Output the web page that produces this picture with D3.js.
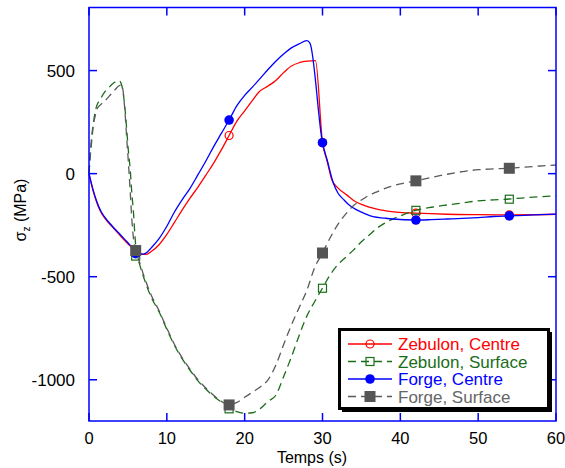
<!DOCTYPE html>
<html><head><meta charset="utf-8">
<script src="https://cdn.jsdelivr.net/npm/d3@7"></script>
<style>body{margin:0;background:#fff}svg{display:block}text{font-family:"Liberation Sans",Arial,sans-serif}</style>
</head><body>
<svg id="c" width="565" height="468"></svg>
<script>
// ---- data ----
const xTicks = [0, 10, 20, 30, 40, 50, 60];
const yTicks = [-1000, -500, 0, 500];
const seriesNames = ["Zebulon, Centre", "Zebulon, Surface", "Forge, Centre", "Forge, Surface"];
const markerT = [6, 18, 30, 42, 54];

const zebCentreT = [0,0.5,1,1.5,2,3,4,5,6,7,7.5,8,9,10,11,12,13,14,15,16,17,18,19,20,21,21.8,23,24,25,26,27,28,29.1,30,30.6,31.2,32,33.1,34,35.2,36,37.4,39.5,42,46,50,54,60];
const zebCentreV = [0,-80,-140,-185,-215,-258,-300,-340,-375,-392,-390,-378,-345,-295,-235,-175,-118,-65,-8,50,115,185,255,305,355,395,425,452,490,522,538,546,548,150,60,-30,-70,-103,-130,-152,-163,-176,-187,-192,-197,-199,-200,-197];
const zebCentreMk = [-385, 185, 150, -192, -200];

const zebSurfT = [0,0.13,0.35,0.7,1,1.4,2,2.5,3,3.5,3.9,4.2,4.6,4.85,5.05,5.3,5.5,5.7,5.9,6.1,6.5,7,8,9,10,11,12,13,14,15,16,17,18,19,20,21,22,23,24,25,26,27,28,29,30,31,32,33,34,35,36,37,38,40,42,44,46,48,50,52,54,56,58,60];
const zebSurfV = [0,70,160,280,330,357,395,415,435,447,450,430,325,212,115,18,-95,-180,-300,-385,-440,-500,-600,-670,-755,-835,-900,-955,-1005,-1045,-1080,-1108,-1135,-1155,-1162,-1160,-1140,-1105,-1075,-985,-890,-785,-690,-620,-555,-490,-440,-405,-370,-330,-298,-265,-240,-205,-178,-163,-152,-142,-132,-127,-123,-117,-112,-108];
const zebSurfMk = [-400, -1141, -556, -178, -124];

const forgeCentreT = [0,0.5,1,1.5,2,3,4,5,6,6.5,7,7.5,8,9,10,11,12,13,14,15,16,17,18,19,20,21,22,23,24,25,26,27,28,28.4,30,30.6,31.4,32,32.7,33.5,34.4,35.5,36.5,38,39,42,44,46,48,50,52,54,56,58,60];
const forgeCentreV = [0,-75,-135,-180,-210,-255,-295,-335,-375,-388,-390,-380,-360,-315,-255,-185,-125,-70,-5,60,130,195,260,330,380,420,462,505,545,580,610,630,645,632,150,66,-47,-95,-125,-155,-176,-195,-209,-216,-220,-225,-223,-220,-217,-213,-208,-205,-202,-199,-196];
const forgeCentreMk = [-388, 260, 150, -225, -205];

const forgeSurfT = [0,0.13,0.4,0.77,1,1.5,2,2.7,3.3,3.8,4.2,4.4,4.6,4.85,5.05,5.3,5.5,5.7,6,6.5,7,8,9,10,11,12,13,14,15,16,17,18,19,20,21,22,23,24,25,26,27,28,29,30,31,32,33,34,35,36,37,38.7,40,42,44,46,48,50,52,54,56,58,60];
const forgeSurfV = [0,80,200,276,310,335,352,380,405,425,430,395,310,170,60,-90,-220,-310,-373,-430,-490,-590,-665,-750,-830,-895,-950,-1000,-1040,-1075,-1105,-1122,-1110,-1085,-1060,-1035,-1000,-930,-830,-735,-650,-565,-455,-385,-310,-245,-195,-155,-128,-105,-88,-63,-50,-35,-18,-3,10,19,23,26,32,37,42];
const forgeSurfMk = [-373, -1122, -385, -35, 26];

// ---- chart ----
const svg = d3.select("#c");
const L = 89, T = 7.5, R = 556, B = 421;
const x = d3.scaleLinear().domain([0, 60]).range([L, R]);
const y = d3.scaleLinear().domain([-1200, 806]).range([B, T]);
const axisBlue = "#0000ff";

const series = [
  {t: zebCentreT, v: zebCentreV, mk: zebCentreMk, color: "#ff0000", dash: null, marker: "circleOpen"},
  {t: zebSurfT, v: zebSurfV, mk: zebSurfMk, color: "#1a6e1a", dash: "8,5", marker: "squareOpen"},
  {t: forgeCentreT, v: forgeCentreV, mk: forgeCentreMk, color: "#0000ff", dash: null, marker: "circleFill"},
  {t: forgeSurfT, v: forgeSurfV, mk: forgeSurfMk, color: "#5a5a5a", dash: "8,5", marker: "squareFill"}
];
const textColors = ["#ff0000", "#1a6e1a", "#0000ff", "#666666"];

const line = d3.line().x(d => x(d[0])).y(d => y(d[1])).curve(d3.curveMonotoneX);

function drawMarker(g, type, cx, cy, color) {
  if (type === "circleOpen") g.append("circle").attr("cx", cx).attr("cy", cy).attr("r", 4).attr("fill", "none").attr("stroke", color).attr("stroke-width", 1.2);
  else if (type === "circleFill") g.append("circle").attr("cx", cx).attr("cy", cy).attr("r", 4.8).attr("fill", color);
  else if (type === "squareOpen") g.append("rect").attr("x", cx - 4).attr("y", cy - 4).attr("width", 8).attr("height", 8).attr("fill", "none").attr("stroke", color).attr("stroke-width", 1.2);
  else g.append("rect").attr("x", cx - 5.5).attr("y", cy - 5.5).attr("width", 11).attr("height", 11).attr("fill", "#555555");
}

const plot = svg.append("g");
series.forEach(s => {
  const pts = s.t.map((t, i) => [t, s.v[i]]);
  plot.append("path").attr("d", line(pts)).attr("fill", "none").attr("stroke", s.color)
    .attr("stroke-width", 1.3).attr("stroke-dasharray", s.dash);
  markerT.forEach((t, i) => drawMarker(plot, s.marker, x(t), y(s.mk[i]), s.color));
});

// frame
svg.append("rect").attr("x", L).attr("y", T).attr("width", R - L).attr("height", B - T)
  .attr("fill", "none").attr("stroke", axisBlue).attr("stroke-width", 1.5);

// ticks (inward on all sides)
const tk = 8;
xTicks.forEach(t => {
  svg.append("line").attr("x1", x(t)).attr("x2", x(t)).attr("y1", B).attr("y2", B - tk).attr("stroke", axisBlue).attr("stroke-width", 1.5);
  svg.append("line").attr("x1", x(t)).attr("x2", x(t)).attr("y1", T).attr("y2", T + tk).attr("stroke", axisBlue).attr("stroke-width", 1.5);
  svg.append("text").attr("x", x(t)).attr("y", 444).attr("text-anchor", "middle").attr("font-size", 16.5).attr("fill", "#000").text(t);
});
yTicks.forEach(t => {
  svg.append("line").attr("x1", L).attr("x2", L + tk).attr("y1", y(t)).attr("y2", y(t)).attr("stroke", axisBlue).attr("stroke-width", 1.5);
  svg.append("line").attr("x1", R).attr("x2", R - tk).attr("y1", y(t)).attr("y2", y(t)).attr("stroke", axisBlue).attr("stroke-width", 1.5);
  svg.append("text").attr("x", 75).attr("y", y(t) + 6).attr("text-anchor", "end").attr("font-size", 17).attr("fill", "#000").text(t);
});

// axis titles
svg.append("text").attr("x", 312).attr("y", 463).attr("text-anchor", "middle").attr("font-size", 16).attr("fill", "#000").text("Temps (s)");
const yl = svg.append("text").attr("transform", "translate(26,210) rotate(-90)").attr("text-anchor", "middle").attr("font-size", 16).attr("fill", "#000");
yl.append("tspan").text("σ");
yl.append("tspan").attr("font-size", 10).attr("dy", 4).text("z");
yl.append("tspan").attr("dy", -4).text(" (MPa)");

// legend
const lg = svg.append("g");
lg.append("rect").attr("x", 342).attr("y", 332).attr("width", 210).attr("height", 80).attr("fill", "#000");
lg.append("rect").attr("x", 339.5).attr("y", 329.5).attr("width", 209).attr("height", 79).attr("fill", "#fff").attr("stroke", "#000").attr("stroke-width", 3);
const rowY = [344, 361.5, 379, 396.5];
series.forEach((s, i) => {
  const yy = rowY[i];
  lg.append("line").attr("x1", 348).attr("x2", 392).attr("y1", yy).attr("y2", yy).attr("stroke", s.color).attr("stroke-width", 1.3).attr("stroke-dasharray", s.dash);
  drawMarker(lg, s.marker, 370, yy, s.color);
  lg.append("text").attr("x", 398).attr("y", yy + 6).attr("font-size", 17).attr("fill", textColors[i]).text(seriesNames[i]);
});
</script>
</body></html>
